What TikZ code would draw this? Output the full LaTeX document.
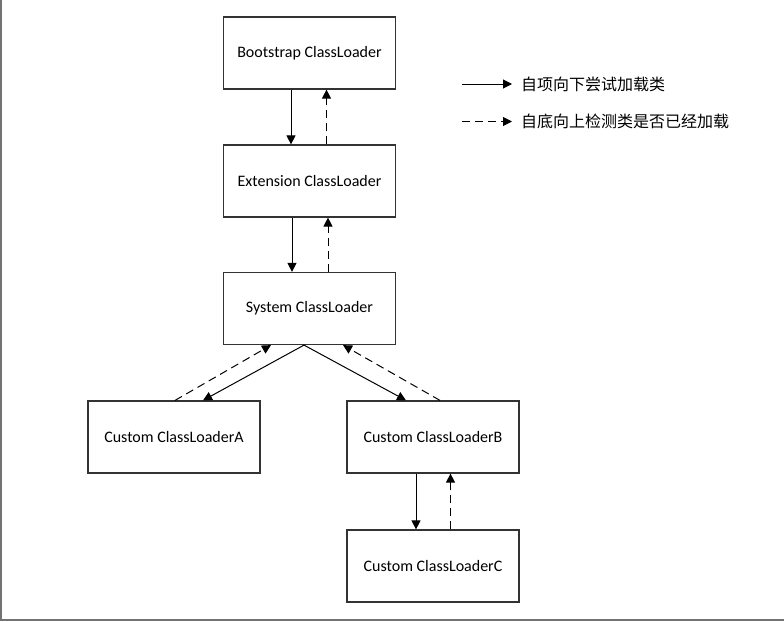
\documentclass[tikz,border=0pt]{standalone}
\usepackage{fontspec}
\setmainfont{Carlito}
\newfontfamily\cjk{Noto Sans CJK SC}
\usepackage{tikz}
\usetikzlibrary{arrows.meta,positioning}

\begin{document}
\begin{tikzpicture}[x=1pt, y=-1pt,
    loader/.style={rectangle, draw=black!80, line width=1.2pt, fill=white, minimum width=172pt, minimum height=72pt, font=\fontsize{16}{18}\selectfont},
    down/.style={-{Triangle[length=9pt, width=9pt]}, line width=1pt, black},
    up/.style={-{Triangle[length=9pt, width=9pt]}, line width=1pt, black, dash pattern=on 8pt off 5pt},
    legend/.style={anchor=west, inner xsep=9pt, inner ysep=0pt, font=\cjk\fontsize{16}{18}\selectfont}
]

% Rahmen
\useasboundingbox (0,0) rectangle (784,621);
\draw[black!55, line width=2pt] (1,0) -- (1,620) -- (784,620);

% Klassenlader
\node[loader] (boot) at (309.5, 53) {Bootstrap ClassLoader};
\node[loader] (ext) at (309.5, 181) {Extension ClassLoader};
\node[loader] (sys) at (309.5, 308.5) {System ClassLoader};
\node[loader] (cusa) at (174, 437) {Custom ClassLoaderA};
\node[loader] (cusb) at (433, 437) {Custom ClassLoaderB};
\node[loader] (cusc) at (433, 566) {Custom ClassLoaderC};

% Delegation nach unten
\draw[down] ([xshift=-18.5pt]boot.south) -- ([xshift=-18.5pt]ext.north);
\draw[down] ([xshift=-17.5pt]ext.south) -- ([xshift=-17.5pt]sys.north);
\draw[down] ([xshift=-5.5pt]sys.south) -- ([xshift=29pt]cusa.north);
\draw[down] ([xshift=-5.5pt]sys.south) -- ([xshift=-27pt]cusb.north);
\draw[down] ([xshift=-17pt]cusb.south) -- ([xshift=-17pt]cusc.north);

% Pruefung nach oben
\draw[up] ([xshift=17pt]ext.north) -- ([xshift=17pt]boot.south);
\draw[up] ([xshift=18.5pt]sys.north) -- ([xshift=18.5pt]ext.south);
\draw[up] ([xshift=1pt]cusa.north) -- ([xshift=-38.5pt]sys.south);
\draw[up] ([xshift=7pt]cusb.north) -- ([xshift=33.5pt]sys.south);
\draw[up] ([xshift=17.5pt]cusc.north) -- ([xshift=17.5pt]cusb.south);

% Legende
\coordinate (lga) at (462, 84);
\coordinate (lgb) at (462, 121.5);
\node[legend] (txta) at (512, 84) {自项向下尝试加载类};
\node[legend] (txtb) at (512, 121.5) {自底向上检测类是否已经加载};
\draw[down] (lga) -- (txta.west);
\draw[up] (lgb) -- (txtb.west);

\end{tikzpicture}
\end{document}
